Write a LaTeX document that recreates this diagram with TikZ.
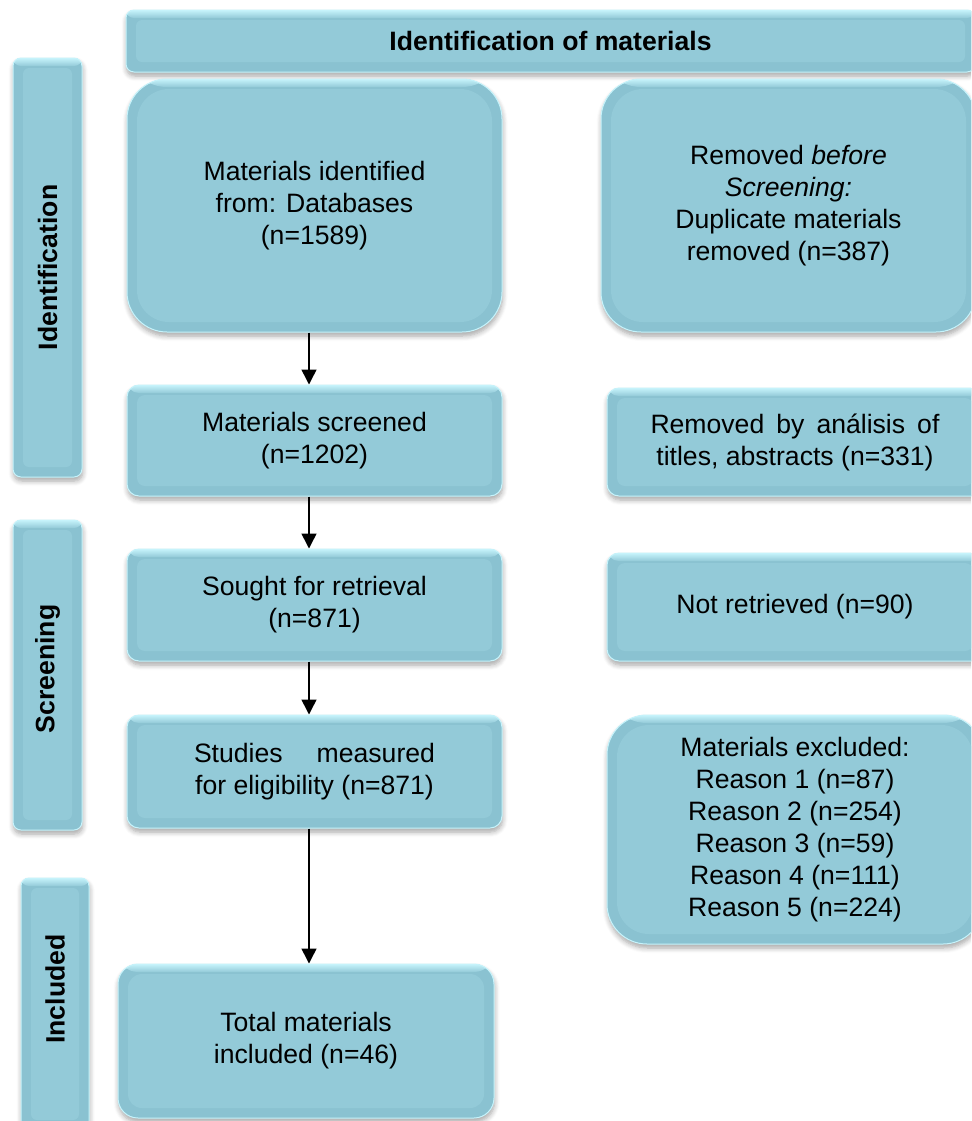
\documentclass[tikz,border=0pt]{standalone}
\usepackage{fontspec}
\setmainfont{Liberation Sans}
\usetikzlibrary{arrows.meta, shadows.blur}

\definecolor{boxblue}{HTML}{93CAD8}
\definecolor{boxside}{HTML}{8AC2D1}
\definecolor{boxhi}{HTML}{C6F3FB}

\tikzset{
  bevelbox/.style 2 args={rounded corners=#1, fill=boxblue, draw=boxhi, line width=0.5pt,
    blur shadow={shadow xshift=0.3pt, shadow yshift=-2pt, shadow blur radius=2.5pt, shadow blur steps=6, shadow opacity=35},
    path picture={
      \fill[boxside] (path picture bounding box.south west) rectangle (path picture bounding box.north east);
      \fill[boxblue, rounded corners=#2] ([shift={(5pt,5pt)}]path picture bounding box.south west) rectangle ([shift={(-5pt,-5pt)}]path picture bounding box.north east);
      \shade[top color=boxhi, bottom color=boxblue] (path picture bounding box.north west) rectangle ([yshift=-4pt]path picture bounding box.north east);
    },
    font=\fontsize{13.3}{16}\selectfont, align=center, inner sep=0pt},
  flowarrow/.style={-{Triangle[width=7.5pt,length=7.5pt]}, line width=0.75pt},
  phaselabel/.style={rotate=90, font=\fontsize{13.3}{16}\selectfont\bfseries}
}

\begin{document}
\begin{tikzpicture}[x=0.5pt, y=-0.5pt]
  \useasboundingbox (0,0) rectangle (971,1121);
  \clip (0,0) rectangle (971,1121);

  % phase bars on the left
  \node [bevelbox={4pt}{3pt}, minimum width=34.5pt, minimum height=209.5pt] (phaseid) at (47.5,267.5) {};
  \node [bevelbox={4pt}{3pt}, minimum width=34.5pt, minimum height=155pt] (phasescr) at (47.5,675) {};
  \node [bevelbox={4pt}{3pt}, minimum width=34pt, minimum height=126pt] (phaseinc) at (55,1004) {};
  \node [phaselabel] (lblid) at (phaseid) {Identification};
  \node [phaselabel] (lblscr) at (47.5,669) {Screening};
  \node [phaselabel] (lblinc) at (55,989) {Included};

  % header
  \node [bevelbox={4pt}{3pt}, minimum width=424.5pt, minimum height=31pt, font=\fontsize{13.3}{16}\selectfont\bfseries] (header) at (550.5,41) {Identification of materials};

  % main column
  \node [bevelbox={20pt}{16pt}, minimum width=187.5pt, minimum height=126.5pt] (ident) at (314.5,205.5) {Materials identified\\from: Databases\\(n=1589)};
  \node [bevelbox={6pt}{4pt}, minimum width=187.5pt, minimum height=55.5pt] (screen) at (314.5,440.5) {Materials screened\\(n=1202)};
  \node [bevelbox={6pt}{4pt}, minimum width=187.5pt, minimum height=56pt] (sought) at (314.5,605) {Sought for retrieval\\(n=871)};
  \node [bevelbox={6pt}{4pt}, minimum width=187.5pt, minimum height=56.5pt] (elig) at (314.5,771.5) {\makebox[120.5pt][s]{Studies\hfill measured}\\for eligibility (n=871)};
  \node [bevelbox={10pt}{7pt}, minimum width=188pt, minimum height=77pt] (total) at (306,1041) {Total materials\\included (n=46)};

  % side column
  \node [bevelbox={20pt}{16pt}, minimum width=187.5pt, minimum height=126.5pt] (dupl) at (788.5,205.5) {Removed \textit{before}\\\textit{Screening:}\\Duplicate materials\\removed (n=387)};
  \node [bevelbox={6pt}{4pt}, minimum width=188pt, minimum height=54pt] (titles) at (795,442) {\makebox[144.5pt][s]{Removed\hfill by\hfill análisis\hfill of}\\titles, abstracts (n=331)};
  \node [bevelbox={6pt}{4pt}, minimum width=188pt, minimum height=54pt] (notret) at (795,607) {Not retrieved (n=90)};
  \node [bevelbox={20pt}{16pt}, minimum width=188pt, minimum height=114.5pt] (excl) at (795,829.5) {Materials excluded:\\Reason 1 (n=87)\\Reason 2 (n=254)\\Reason 3 (n=59)\\Reason 4 (n=111)\\Reason 5 (n=224)};

  % arrows
  \draw [flowarrow] ([xshift=-2.75pt]ident.south) -- ([xshift=-2.75pt]screen.north);
  \draw [flowarrow] ([xshift=-2.75pt]screen.south) -- ([xshift=-2.75pt]sought.north);
  \draw [flowarrow] ([xshift=-2.75pt]sought.south) -- ([xshift=-2.75pt]elig.north);
  \draw [flowarrow] ([xshift=-2.75pt]elig.south) -- ([xshift=-2.75pt]elig.south |- total.north);
\end{tikzpicture}
\end{document}
